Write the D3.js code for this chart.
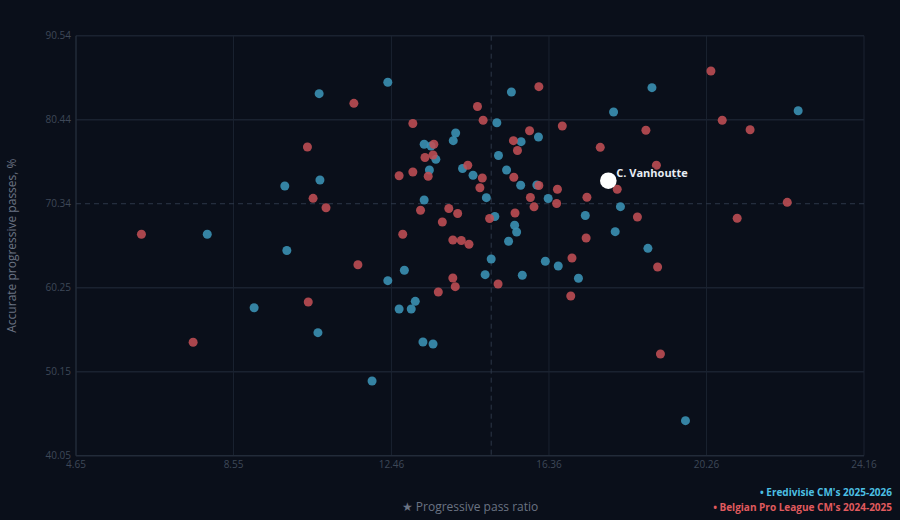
<!DOCTYPE html>
<html>
<head>
<meta charset="utf-8">
<script src="https://cdn.jsdelivr.net/npm/d3@7"></script>
<style>
  body { margin: 0; background: #0a0f1a; }
  svg { display: block; font-family: "Open Sans", "Noto Sans", sans-serif; }
</style>
</head>
<body>
<div id="chart"></div>
<script>
var width = 900,
    height = 520

// axis ticks
var xTicks = [4.65, 8.55, 12.46, 16.36, 20.26, 24.16]
var yTicks = [40.05, 50.15, 60.25, 70.34, 80.44, 90.54]

// league averages (dashed lines)
var avgX = 14.93
var avgY = 70.34

// Eredivisie CM's 2025-2026
var ereX = [7.90, 9.06, 9.87, 9.82, 10.67, 10.69, 12.37, 10.64, 12.78, 12.37, 13.05, 12.65, 12.95, 13.24,
  13.49, 11.98, 19.74, 18.81, 17.09, 16.59, 16.27, 15.70, 18.00, 17.26, 18.13, 15.36, 15.56, 15.51,
  16.34, 15.43, 18.91, 17.96, 22.53, 16.10, 15.67, 15.07, 15.31, 15.66, 16.06, 19.51, 14.05, 13.99,
  13.27, 13.44, 13.56, 15.11, 13.40, 14.22, 14.48, 14.81, 13.27, 15.02, 14.93, 14.78]
var ereY = [66.67, 57.83, 64.72, 72.47, 83.57, 73.19, 84.94, 54.84, 62.34, 61.09, 58.61, 57.69, 57.69, 53.72,
  53.48, 49.03, 44.26, 64.98, 61.38, 62.86, 63.42, 61.74, 66.98, 68.93, 69.99, 65.83, 66.94, 67.75,
  70.97, 83.77, 84.29, 81.37, 81.52, 78.36, 77.80, 80.08, 74.40, 72.56, 72.59, 73.88, 78.84, 77.92,
  77.49, 77.28, 75.68, 76.14, 74.40, 74.58, 73.76, 71.07, 70.79, 68.81, 63.70, 61.81]

// Belgian Pro League CM's 2024-2025
var jplX = [6.27, 7.55, 11.53, 10.38, 10.52, 10.84, 11.63, 10.40, 12.99, 14.59, 14.73, 16.11, 20.37, 20.65,
  21.34, 18.76, 16.69, 15.88, 15.48, 15.58, 17.63, 19.02, 15.49, 16.11, 16.57, 15.90, 16.55, 15.99,
  17.30, 18.05, 22.26, 18.55, 21.02, 15.52, 17.28, 16.93, 19.05, 16.90, 19.12, 15.10, 13.51, 13.29,
  13.49, 12.99, 13.37, 12.65, 14.35, 14.71, 14.65, 13.18, 13.88, 14.10, 13.72, 12.74, 13.98, 14.19,
  14.38, 13.98, 14.04, 13.62, 14.89]
var jplY = [66.67, 53.69, 82.41, 77.16, 70.99, 69.86, 63.01, 58.53, 79.99, 82.03, 80.37, 84.41, 86.30, 80.37,
  79.24, 79.17, 79.69, 79.12, 77.92, 76.74, 77.12, 74.96, 73.52, 72.53, 72.08, 71.09, 70.37, 69.97,
  71.12, 72.08, 70.51, 68.75, 68.59, 69.23, 66.22, 63.82, 62.74, 59.25, 52.28, 60.69, 77.49, 75.90,
  76.20, 74.16, 73.64, 73.70, 74.96, 73.43, 72.26, 69.55, 69.77, 69.17, 68.15, 66.67, 65.98, 65.92,
  65.47, 61.41, 60.37, 59.73, 68.57]

// highlighted player
var playerName = "C. Vanhoutte"
var playerX = 17.83
var playerY = 73.11

var svg = d3.select("#chart")
  .append("svg")
    .attr("width", width)
    .attr("height", height)

svg.append("rect")
  .attr("width", width)
  .attr("height", height)
  .attr("fill", "#0a0f1a")

var x = d3.scaleLinear().domain([4.65, 24.16]).range([76, 864])
var y = d3.scaleLinear().domain([40.05, 90.54]).range([455.7, 35.7])

// grid
svg.append("g")
  .selectAll("line")
  .data(xTicks.slice(1))
  .enter()
  .append("line")
    .attr("x1", d => x(d)).attr("x2", d => x(d))
    .attr("y1", y(90.54)).attr("y2", y(40.05))
    .attr("stroke", "#1a2230")
    .attr("stroke-width", 1)

svg.append("g")
  .selectAll("line")
  .data(yTicks.slice(1).filter(d => d !== avgY))
  .enter()
  .append("line")
    .attr("x1", x(4.65)).attr("x2", x(24.16))
    .attr("y1", d => y(d)).attr("y2", d => y(d))
    .attr("stroke", "#1a2230")
    .attr("stroke-width", 1.5)

// axis lines
svg.append("line")
  .attr("x1", x(4.65)).attr("x2", x(4.65))
  .attr("y1", y(90.54)).attr("y2", y(40.05))
  .attr("stroke", "#222b39").attr("stroke-width", 1.5)
svg.append("line")
  .attr("x1", x(4.65)).attr("x2", x(24.16))
  .attr("y1", y(40.05)).attr("y2", y(40.05))
  .attr("stroke", "#222b39").attr("stroke-width", 1.5)

// average lines
svg.append("line")
  .attr("x1", x(avgX)).attr("x2", x(avgX))
  .attr("y1", y(90.54)).attr("y2", y(40.05))
  .attr("stroke", "#2c3748")
  .attr("stroke-dasharray", "5,4")
svg.append("line")
  .attr("x1", x(4.65)).attr("x2", x(24.16))
  .attr("y1", y(avgY)).attr("y2", y(avgY))
  .attr("stroke", "#2c3748")
  .attr("stroke-dasharray", "5,4")

// tick labels
svg.append("g")
  .selectAll("text")
  .data(xTicks)
  .enter()
  .append("text")
    .attr("x", d => x(d))
    .attr("y", 468)
    .attr("text-anchor", "middle")
    .attr("fill", "#3e4858")
    .style("font-size", "10px")
    .text(d => d.toFixed(2))

svg.append("g")
  .selectAll("text")
  .data(yTicks)
  .enter()
  .append("text")
    .attr("x", 71)
    .attr("y", d => y(d) + 3.5)
    .attr("text-anchor", "end")
    .attr("fill", "#3e4858")
    .style("font-size", "10px")
    .text(d => d.toFixed(2))

// axis titles
svg.append("text")
  .attr("transform", "translate(16," + y(65.3) + ") rotate(-90)")
  .attr("text-anchor", "middle")
  .attr("fill", "#6a7383")
  .style("font-size", "12px")
  .text("Accurate progressive passes, %")

svg.append("text")
  .attr("x", 470)
  .attr("y", 511)
  .attr("text-anchor", "middle")
  .attr("fill", "#6a7383")
  .style("font-size", "12px")
  .text("★ Progressive pass ratio")

// dots
var ereData = ereX.map((v, i) => ({x: v, y: ereY[i]}))
var jplData = jplX.map((v, i) => ({x: v, y: jplY[i]}))

svg.append("g")
  .selectAll("circle")
  .data(ereData)
  .enter()
  .append("circle")
    .attr("cx", d => x(d.x))
    .attr("cy", d => y(d.y))
    .attr("r", 4.5)
    .attr("fill", "#3a90b2")
    .style("opacity", 0.9)

svg.append("g")
  .selectAll("circle")
  .data(jplData)
  .enter()
  .append("circle")
    .attr("cx", d => x(d.x))
    .attr("cy", d => y(d.y))
    .attr("r", 4.5)
    .attr("fill", "#c04e54")
    .style("opacity", 0.88)

// highlighted player
svg.append("circle")
  .attr("cx", x(playerX))
  .attr("cy", y(playerY))
  .attr("r", 8.3)
  .attr("fill", "#ffffff")

svg.append("text")
  .attr("x", x(playerX) + 8)
  .attr("y", y(playerY) - 3.5)
  .attr("fill", "#e8edf4")
  .attr("stroke", "#0a0f1a")
  .attr("stroke-width", 2.5)
  .attr("paint-order", "stroke")
  .style("font-size", "11px")
  .style("font-weight", "bold")
  .text(playerName)

// legend
var legend = [
  {label: "• Eredivisie CM's 2025-2026", color: "#4cbfe3", y: 496},
  {label: "• Belgian Pro League CM's 2024-2025", color: "#e05a5e", y: 511}
]
svg.append("g")
  .selectAll("text")
  .data(legend)
  .enter()
  .append("text")
    .attr("x", 892)
    .attr("y", d => d.y)
    .attr("text-anchor", "end")
    .attr("fill", d => d.color)
    .style("font-size", "10px")
    .style("font-weight", "bold")
    .text(d => d.label)
</script>
</body>
</html>
